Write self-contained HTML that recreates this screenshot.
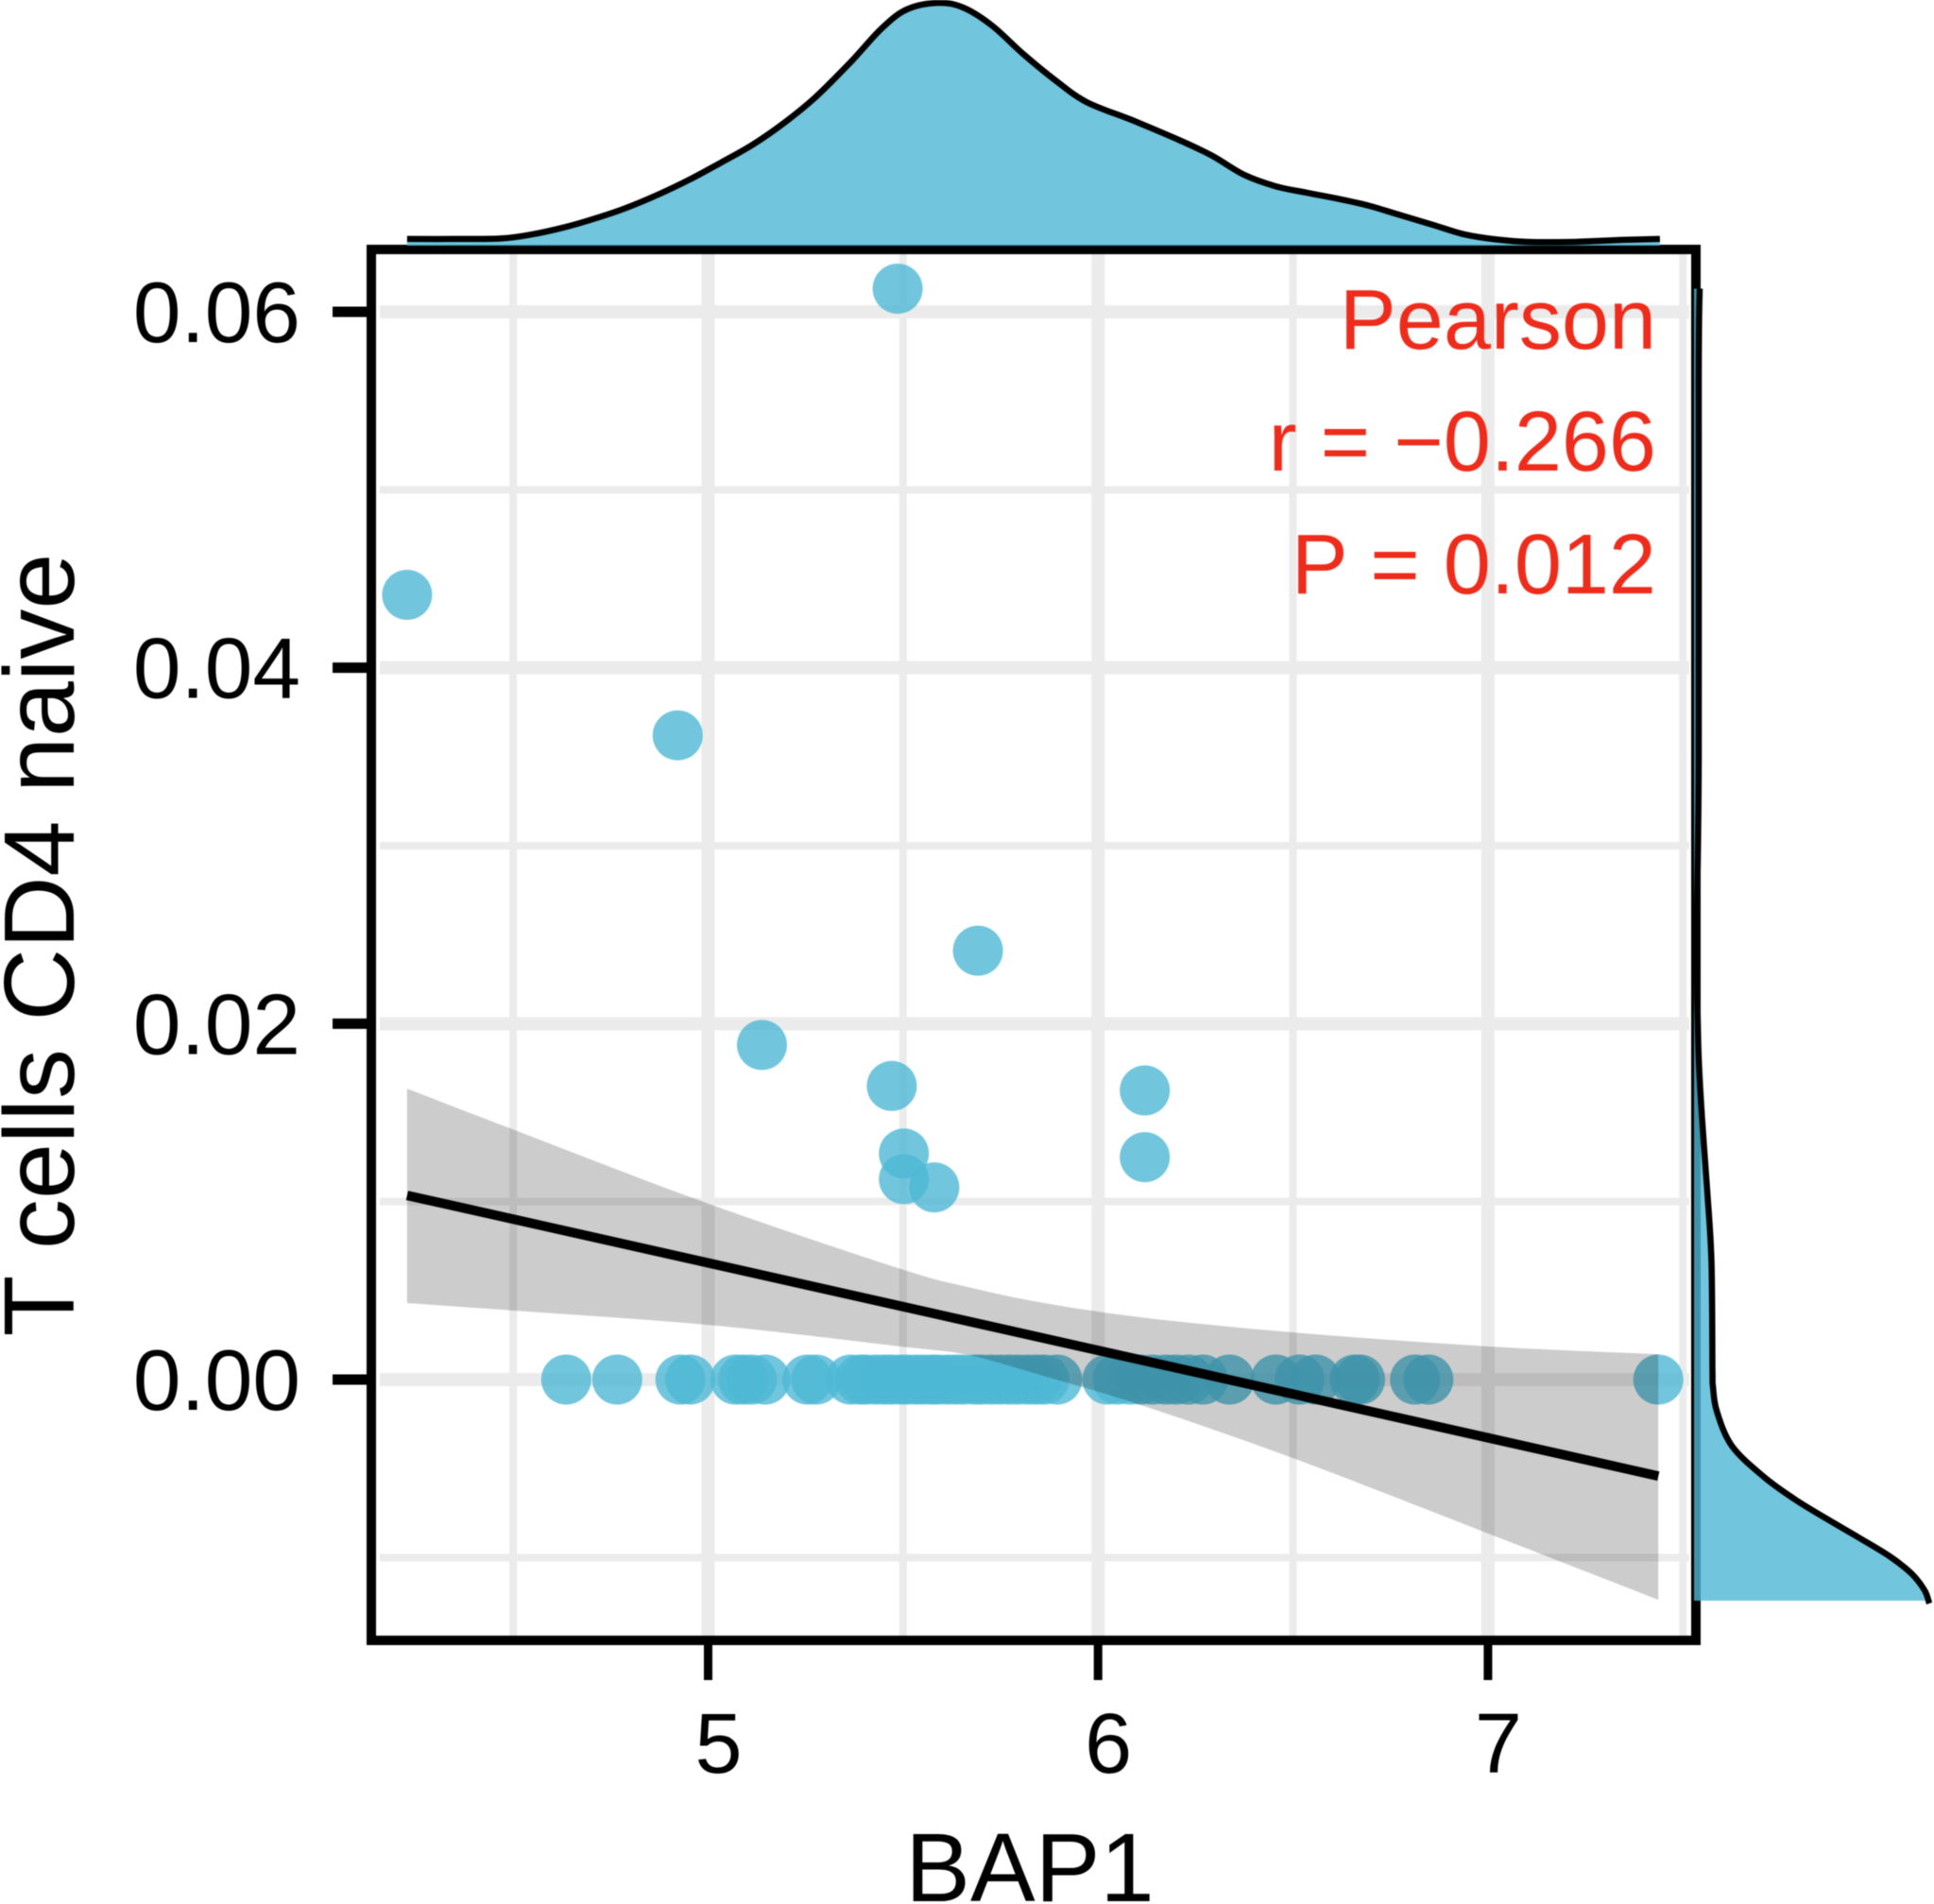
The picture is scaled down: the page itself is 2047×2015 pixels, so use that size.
<!DOCTYPE html>
<html lang="en">
<head>
<meta charset="utf-8">
<title>BAP1 vs T cells CD4 naive</title>
<style>
html,body{margin:0;padding:0;background:#fff;width:2047px;height:2015px;overflow:hidden}
svg{display:block;filter:blur(0.6px)}
text{font-family:"Liberation Sans",Arial,sans-serif}
</style>
</head>
<body>
<svg id="chart" xmlns="http://www.w3.org/2000/svg" width="2047" height="2015" viewBox="0 0 2047 2015">
  <defs>
    <clipPath id="rightDensityClip"><rect x="1780" y="250" width="267" height="1444"/></clipPath>
  </defs>
  <rect x="0" y="0" width="2047" height="2015" fill="#ffffff"/>
  <g id="gridLayer"></g>
  <g id="pointLayer"></g>
  <g id="smoothLayer"></g>
  <g id="axisLayer"></g>
  <g id="densityLayer"></g>
  <g fill="#ee2c1c" font-size="90" text-anchor="end">
    <text x="1753" y="369">Pearson</text>
    <text x="1753" y="498">r = −0.266</text>
    <text x="1753" y="628">P = 0.012</text>
  </g>
  <text x="1090" y="2012" font-size="103" text-anchor="middle" fill="#000">BAP1</text>
  <text transform="translate(78,1000) rotate(-90)" font-size="106" text-anchor="middle" fill="#000">T cells CD4 naive</text>
</svg>
<script>
const xTicks = [5, 6, 7];
const xTickLabels = ["5", "6", "7"];
const yTicks = [0, 0.02, 0.04, 0.06];
const yTickLabels = ["0.00", "0.02", "0.04", "0.06"];
const xMinor = [4.5, 5.5, 6.5, 7.5];
const yMinor = [-0.01, 0.01, 0.03, 0.05];

const pointX = [5.486, 4.228, 4.922, 5.692, 5.138, 5.471, 5.502, 5.502, 5.58, 6.12, 6.12,
  4.636, 4.767, 4.929, 4.954, 5.07, 5.09, 5.112, 5.146, 5.255, 5.277,
  5.366, 5.39, 5.405, 5.43, 5.452, 5.47, 5.493, 5.51, 5.533, 5.552, 5.574, 5.588, 5.613, 5.635, 5.655, 5.683,
  5.7, 5.725, 5.748, 5.772, 5.794, 5.82, 5.841, 5.862, 5.895,
  6.024, 6.05, 6.082, 6.11, 6.14, 6.174, 6.2, 6.232, 6.269,
  6.337, 6.456, 6.517, 6.558, 6.658, 6.672, 6.813, 6.847, 7.437];
const pointY = [0.0613, 0.0441, 0.0362, 0.0241, 0.0188, 0.0165, 0.0127, 0.01126, 0.0108, 0.01625, 0.0125,
  0, 0, 0, 0, 0, 0, 0, 0, 0, 0,
  0, 0, 0, 0, 0, 0, 0, 0, 0, 0, 0, 0, 0, 0, 0, 0,
  0, 0, 0, 0, 0, 0, 0, 0, 0,
  0, 0, 0, 0, 0, 0, 0, 0, 0,
  0, 0, 0, 0, 0, 0, 0, 0, 0];

const fitX = [4.228, 7.437];
const fitY = [0.01035, -0.00542];

const bandX = [4.228, 4.498, 4.995, 5.495, 5.667, 5.85, 6.109, 6.5, 7.002, 7.437];
const bandUpper = [0.01635, 0.01407, 0.00993, 0.00621, 0.0052, 0.00435, 0.0035, 0.00265, 0.00186, 0.00143];
const bandLower = [0.0043, 0.00388, 0.00308, 0.00186, 0.00138, 0.00027, -0.00143, -0.00441, -0.00866, -0.01237];

const topDensityX = [4.228, 4.347, 4.468, 4.548, 4.63, 4.71, 4.79, 4.873, 4.953, 5.033, 5.115, 5.195, 5.275,
  5.365, 5.445, 5.51, 5.59, 5.655, 5.728, 5.808, 5.891, 5.971, 6.092, 6.213, 6.293, 6.375, 6.455, 6.535,
  6.618, 6.697, 6.777, 6.86, 6.94, 7.02, 7.102, 7.223, 7.344, 7.441];
const topDensityValues = [0.02, 0.02, 0.022, 0.039, 0.068, 0.105, 0.149, 0.205, 0.267, 0.337, 0.412, 0.502, 0.608,
  0.753, 0.894, 0.973, 1.0, 0.98, 0.906, 0.788, 0.678, 0.588, 0.51, 0.427, 0.365, 0.286, 0.239, 0.212,
  0.186, 0.157, 0.118, 0.078, 0.039, 0.018, 0.008, 0.008, 0.016, 0.02];

const rightDensityY = [0.0613, 0.0563, 0.035, 0.0249, 0.0188, 0.0147, 0.0106, 0.00658, 0.00053, -0.00037, -0.00175,
  -0.00372, -0.00547, -0.00674, -0.00781, -0.00887, -0.00993, -0.01089, -0.01184, -0.01258];
const rightDensityValues = [0.024, 0.02, 0.02, 0.012, 0.018, 0.034, 0.056, 0.074, 0.078, 0.08, 0.096,
  0.16, 0.296, 0.428, 0.56, 0.696, 0.828, 0.92, 0.976, 0.996];

const NS = "http://www.w3.org/2000/svg";
function xScale(v) { return 749.5 + 412.7 * (v - 5); }
function yScale(v) { return 1460 - 18833 * v; }
function topScale(d) { return 258 - 255 * d; }
function rightScale(d) { return 1793 + 250 * d; }

function make(tag, parent) {
  const el = document.createElementNS(NS, tag);
  parent.appendChild(el);
  return el;
}
function smoothPath(pts, start) {
  let d = (start ? "M" : "L") + pts[0][0].toFixed(1) + " " + pts[0][1].toFixed(1);
  for (let i = 0; i < pts.length - 1; i++) {
    const p0 = pts[Math.max(i - 1, 0)], p1 = pts[i], p2 = pts[i + 1], p3 = pts[Math.min(i + 2, pts.length - 1)];
    const c1x = p1[0] + (p2[0] - p0[0]) / 6, c1y = p1[1] + (p2[1] - p0[1]) / 6;
    const c2x = p2[0] - (p3[0] - p1[0]) / 6, c2y = p2[1] - (p3[1] - p1[1]) / 6;
    d += "C" + c1x.toFixed(1) + " " + c1y.toFixed(1) + " " + c2x.toFixed(1) + " " + c2y.toFixed(1) + " " + p2[0].toFixed(1) + " " + p2[1].toFixed(1);
  }
  return d;
}

const gridLayer = document.getElementById("gridLayer");
const pointLayer = document.getElementById("pointLayer");
const smoothLayer = document.getElementById("smoothLayer");
const densityLayer = document.getElementById("densityLayer");
const axisLayer = document.getElementById("axisLayer");

function gridLine(x1, y1, x2, y2, w) {
  const l = make("line", gridLayer);
  l.setAttribute("x1", x1); l.setAttribute("y1", y1);
  l.setAttribute("x2", x2); l.setAttribute("y2", y2);
  l.setAttribute("stroke", "#ebebeb");
  l.setAttribute("stroke-width", w);
  return l;
}
const gridLeft = 402, gridRight = 1788, gridTop = 268, gridBottom = 1732;
yMinor.forEach(function (v) {
  const l = gridLine(gridLeft, yScale(v), gridRight, yScale(v), 8);
  
  
});
xMinor.forEach(function (v) {
  const l = gridLine(xScale(v), gridTop, xScale(v), gridBottom, 8);
  
  
});
yTicks.forEach(function (v) {
  const l = gridLine(gridLeft, yScale(v), gridRight, yScale(v), 14);
  
  
});
xTicks.forEach(function (v) {
  const l = gridLine(xScale(v), gridTop, xScale(v), gridBottom, 14);
  
  
});

pointX.forEach(function (v, i) {
  const c = make("circle", pointLayer);
  
  
  c.setAttribute("cx", xScale(v).toFixed(1));
  c.setAttribute("cy", yScale(pointY[i]).toFixed(1));
  c.setAttribute("r", 26.5);
  c.setAttribute("fill", "#4db8d5");
  c.setAttribute("fill-opacity", "0.8");
});

const upperPts = bandX.map(function (v, i) { return [xScale(v), yScale(bandUpper[i])]; });
const lowerPts = bandX.map(function (v, i) { return [xScale(v), yScale(bandLower[i])]; }).reverse();
const band = make("path", smoothLayer);


band.setAttribute("d", smoothPath(upperPts, true) + smoothPath(lowerPts, false) + "Z");
band.setAttribute("fill", "#000");
band.setAttribute("fill-opacity", "0.2");

const fit = make("line", smoothLayer);


fit.setAttribute("x1", xScale(fitX[0]));
fit.setAttribute("y1", yScale(fitY[0]));
fit.setAttribute("x2", xScale(fitX[1]));
fit.setAttribute("y2", yScale(fitY[1]));
fit.setAttribute("stroke", "#000");
fit.setAttribute("stroke-width", 10);

const border = make("rect", axisLayer);


border.setAttribute("x", 393);
border.setAttribute("y", 264);
border.setAttribute("width", 1402);
border.setAttribute("height", 1472);
border.setAttribute("fill", "none");
border.setAttribute("stroke", "#000");
border.setAttribute("stroke-width", 10);

xTicks.forEach(function (v, i) {
  const t = make("line", axisLayer);
  
  
  t.setAttribute("x1", xScale(v));
  t.setAttribute("x2", xScale(v));
  t.setAttribute("y1", 1738);
  t.setAttribute("y2", 1778);
  t.setAttribute("stroke", "#000");
  t.setAttribute("stroke-width", 9);
  const lab = make("text", axisLayer);
  
  
  lab.setAttribute("x", xScale(v) + 11);
  lab.setAttribute("y", 1876);
  lab.setAttribute("font-size", 90);
  lab.setAttribute("text-anchor", "middle");
  lab.setAttribute("fill", "#000");
  lab.textContent = xTickLabels[i];
});
yTicks.forEach(function (v, i) {
  const t = make("line", axisLayer);
  
  
  t.setAttribute("x1", 352);
  t.setAttribute("x2", 392);
  t.setAttribute("y1", yScale(v));
  t.setAttribute("y2", yScale(v));
  t.setAttribute("stroke", "#000");
  t.setAttribute("stroke-width", 11);
  const lab = make("text", axisLayer);
  
  
  lab.setAttribute("x", 318);
  lab.setAttribute("y", yScale(v) + 32);
  lab.setAttribute("font-size", 91);
  lab.setAttribute("text-anchor", "end");
  lab.setAttribute("fill", "#000");
  lab.textContent = yTickLabels[i];
});

const topPts = topDensityX.map(function (v, i) { return [xScale(v), topScale(topDensityValues[i])]; });
const topCurve = smoothPath(topPts, true);
const topFill = make("path", densityLayer);


topFill.setAttribute("d", topCurve + "L" + topPts[topPts.length - 1][0] + " 260L" + topPts[0][0] + " 260Z");
topFill.setAttribute("fill", "#4db8d5");
topFill.setAttribute("fill-opacity", "0.8");
const topLine = make("path", densityLayer);


topLine.setAttribute("d", topCurve);
topLine.setAttribute("fill", "none");
topLine.setAttribute("stroke", "#000");
topLine.setAttribute("stroke-width", 6.5);

const rightPts = rightDensityY.map(function (v, i) { return [rightScale(rightDensityValues[i]), yScale(v)]; });
const rightCurve = smoothPath(rightPts, true);
const rightFill = make("path", densityLayer);


rightFill.setAttribute("d", rightCurve + "L1793 " + rightPts[rightPts.length - 1][1] + "L1793 " + rightPts[0][1] + "Z");
rightFill.setAttribute("fill", "#4db8d5");
rightFill.setAttribute("fill-opacity", "0.8");
rightFill.setAttribute("clip-path", "url(#rightDensityClip)");
const rightLine = make("path", densityLayer);


rightLine.setAttribute("d", rightCurve);
rightLine.setAttribute("fill", "none");
rightLine.setAttribute("stroke", "#000");
rightLine.setAttribute("stroke-width", 6.5);
</script>
</body>
</html>
